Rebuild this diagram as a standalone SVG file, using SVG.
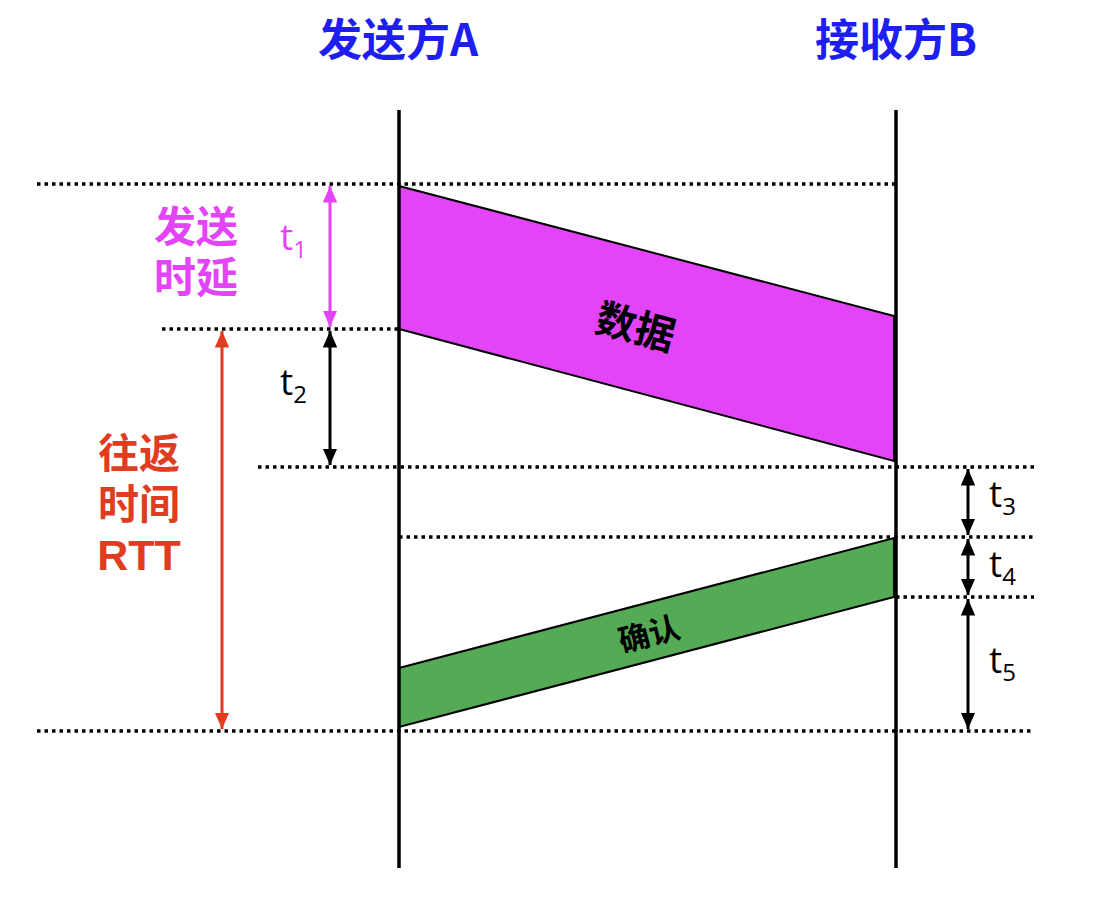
<svg xmlns="http://www.w3.org/2000/svg" width="1097" height="905" viewBox="0 0 1097 905">
<style>
.life{stroke:#000;stroke-width:3.5;fill:none}
.dot{stroke:#000;stroke-width:3.5;stroke-dasharray:3.5,4;fill:none}
.cjk{font-family:"Noto Sans CJK SC","Noto Sans",sans-serif;font-weight:bold}
.t{font-family:"Open Sans","Noto Sans",sans-serif;font-size:37px}
.sub{font-size:24px}
</style>
<defs>
<marker id="hk" viewBox="0 0 10 10" refX="10" refY="5" markerWidth="5.5" markerHeight="4.8" markerUnits="strokeWidth" orient="auto-start-reverse" preserveAspectRatio="none"><path d="M0,0L10,5L0,10z" fill="#000"/></marker>
<marker id="hm" viewBox="0 0 10 10" refX="10" refY="5" markerWidth="5.5" markerHeight="4.8" markerUnits="strokeWidth" orient="auto-start-reverse" preserveAspectRatio="none"><path d="M0,0L10,5L0,10z" fill="#E444F8"/></marker>
<marker id="hr" viewBox="0 0 10 10" refX="10" refY="5" markerWidth="5.5" markerHeight="4.8" markerUnits="strokeWidth" orient="auto-start-reverse" preserveAspectRatio="none"><path d="M0,0L10,5L0,10z" fill="#E03C1F"/></marker>
</defs>
<rect width="1097" height="905" fill="#fff"/>
<g id="dotted-lines">
<line class="dot" x1="37" y1="184" x2="896" y2="184"/>
<line class="dot" x1="162" y1="329" x2="399" y2="329"/>
<line class="dot" x1="258" y1="467" x2="1034" y2="467"/>
<line class="dot" x1="399" y1="537" x2="1034" y2="537"/>
<line class="dot" x1="896" y1="597" x2="1034" y2="597"/>
<line class="dot" x1="37" y1="731" x2="1034" y2="731"/>
</g>
<g id="data">
<polygon points="399,186 894,316 894,461 399,329" fill="#E444F8" stroke="#000" stroke-width="2"/>
<text class="cjk" font-size="40" text-anchor="middle" transform="translate(632,341) rotate(14.7)">数据</text>
</g>
<g id="ack">
<polygon points="399,668 894,538 894,597 399,727" fill="#55AA55" stroke="#000" stroke-width="2"/>
<text class="cjk" font-size="31" text-anchor="middle" transform="translate(652,645) rotate(-14.7)">确认</text>
</g>
<g id="lifelines">
<line class="life" x1="399" y1="110" x2="399" y2="868"/>
<line class="life" x1="896" y1="110" x2="896" y2="868"/>
</g>
<g id="sender">
<text class="cjk" x="398" y="56" font-size="44" text-anchor="middle" fill="#1E1EF0">发送方A</text>
</g>
<g id="receiver">
<text class="cjk" x="896" y="56" font-size="44" text-anchor="middle" fill="#1E1EF0">接收方B</text>
</g>
<g id="connectors">
<line x1="330" y1="186" x2="330" y2="327" stroke="#E444F8" stroke-width="3" marker-start="url(#hm)" marker-end="url(#hm)"/>
<line x1="330" y1="331" x2="330" y2="465" stroke="#000" stroke-width="3" marker-start="url(#hk)" marker-end="url(#hk)"/>
<line x1="222" y1="331" x2="222" y2="729" stroke="#E03C1F" stroke-width="3" marker-start="url(#hr)" marker-end="url(#hr)"/>
<line x1="968" y1="469" x2="968" y2="535" stroke="#000" stroke-width="3" marker-start="url(#hk)" marker-end="url(#hk)"/>
<line x1="968" y1="539" x2="968" y2="595" stroke="#000" stroke-width="3" marker-start="url(#hk)" marker-end="url(#hk)"/>
<line x1="968" y1="599" x2="968" y2="729" stroke="#000" stroke-width="3" marker-start="url(#hk)" marker-end="url(#hk)"/>
</g>
<g id="labels">
<text class="cjk" font-size="42" text-anchor="middle" fill="#E444F8"><tspan x="196" y="242">发送</tspan><tspan x="196" y="293">时延</tspan></text>
<text class="t" x="280" y="250" fill="#E444F8">t<tspan class="sub" dy="8">1</tspan></text>
<text class="t" x="280" y="395" fill="#000">t<tspan class="sub" dy="8">2</tspan></text>
<text class="cjk" font-size="41" text-anchor="middle" fill="#E03C1F"><tspan x="139" y="468">往返</tspan><tspan x="139" y="519">时间</tspan></text>
<text x="139" y="570" font-family="'Liberation Sans',Arial,sans-serif" font-weight="bold" font-size="43" text-anchor="middle" fill="#E03C1F">RTT</text>
<text class="t" x="989" y="507" fill="#000">t<tspan class="sub" dy="8">3</tspan></text>
<text class="t" x="989" y="577" fill="#000">t<tspan class="sub" dy="8">4</tspan></text>
<text class="t" x="989" y="673" fill="#000">t<tspan class="sub" dy="8">5</tspan></text>
</g>
</svg>
